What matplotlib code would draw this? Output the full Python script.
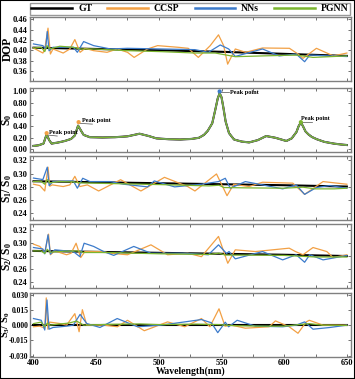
import matplotlib
matplotlib.use("Agg")
import matplotlib.pyplot as plt
from matplotlib.patches import Rectangle

plt.rcParams['font.family'] = ['Liberation Serif', 'DejaVu Serif']
plt.rcParams['font.weight'] = 'bold'
plt.rcParams['mathtext.fontset'] = 'custom'
plt.rcParams['mathtext.rm'] = 'Liberation Serif:bold'
plt.rcParams['mathtext.it'] = 'Liberation Serif:bold'
plt.rcParams['mathtext.bf'] = 'Liberation Serif:bold'

# ---- data ----
methods = ['GT', 'CCSP', 'NNs', 'PGNN']
colors = ['#000000', '#F2A044', '#3C7BCB', '#7BB52F']

# DOP
dop_gt_wl = [400, 450, 500, 550, 600, 650]
dop_gt = [0.405, 0.4025, 0.400, 0.397, 0.393, 0.389]
dop_ccsp_wl = [400, 407.5, 409, 411.6, 413.5, 415.6, 423.7, 429, 433, 437.2, 441.2, 448, 458.7, 466.8,
               475, 480.3, 491, 499, 515.3, 523.4, 531.5, 541, 547.6, 551.7, 554.9, 561, 569.2, 582.7,
               604.2, 611, 615, 625.7, 639.2, 650]
dop_ccsp = [0.4044, 0.3946, 0.4025, 0.443, 0.3927, 0.4025, 0.3946, 0.4025, 0.4208, 0.396, 0.4038, 0.3992,
            0.396, 0.4025, 0.396, 0.3861, 0.4025, 0.409, 0.4058, 0.4038, 0.3861, 0.409, 0.430, 0.409,
            0.373, 0.4025, 0.396, 0.4044, 0.4038, 0.3927, 0.3842, 0.4038, 0.389, 0.3946]
dop_nns_wl = [400, 407.5, 409.7, 411, 412.4, 415.6, 431.8, 435, 440, 448, 461.4, 475, 501.8, 528.8,
              539.5, 549, 555.7, 561, 582.7, 596, 609.6, 616.3, 620.4, 636.5, 650]
dop_nns = [0.4123, 0.409, 0.4025, 0.4365, 0.399, 0.4058, 0.4058, 0.396, 0.4169, 0.409, 0.4025, 0.4038,
           0.4025, 0.4012, 0.396, 0.4103, 0.4025, 0.388, 0.4025, 0.389, 0.3927, 0.3777, 0.3907, 0.389, 0.3878]
dop_pgnn_wl = [400, 406.2, 409, 410.8, 412.9, 421, 431.8, 437, 448, 475, 502, 528.8, 545, 561, 582.7,
               609.6, 623, 650]
dop_pgnn = [0.4044, 0.4058, 0.3973, 0.409, 0.4025, 0.4078, 0.4058, 0.4025, 0.4025, 0.3992, 0.3973,
            0.3946, 0.3946, 0.3875, 0.389, 0.3907, 0.3861, 0.389]

# S0 (all four methods overlap)
s0_wl = [400, 404, 408, 410.5, 412.5, 414.5, 420, 425, 430, 433, 435.6, 438, 440, 445, 455, 465, 475,
         484.6, 492, 498, 508, 517, 526, 532, 536, 539, 542.6, 545, 547, 548.5, 550, 551.5, 553.3, 556,
         560, 566, 572, 579, 585.6, 593, 601.7, 606, 609.8, 611.5, 613.3, 615, 617, 619.3, 622, 626, 632,
         639.5, 645, 650]
s0 = [0.06, 0.07, 0.10, 0.26, 0.16, 0.10, 0.12, 0.145, 0.18, 0.24, 0.41, 0.32, 0.25, 0.21, 0.205, 0.21,
      0.225, 0.27, 0.23, 0.19, 0.175, 0.17, 0.18, 0.20, 0.25, 0.32, 0.45, 0.68, 0.88, 0.97, 0.90, 0.72,
      0.48, 0.28, 0.17, 0.135, 0.12, 0.16, 0.23, 0.20, 0.145, 0.19, 0.30, 0.40, 0.465, 0.40, 0.31, 0.26,
      0.215, 0.175, 0.13, 0.10, 0.085, 0.075]
peak_wl = [410.5, 436.0, 548.5, 613.3]
peak_val = [0.28, 0.47, 1.00, 0.47]
peak_color = ['#F2A044', '#F2A044', '#3C7BCB', '#7BB52F']

# S1/S0
s1_gt_wl = [400, 500, 600, 650]
s1_gt = [0.2885, 0.2855, 0.2825, 0.2805]
s1_ccsp_wl = [400, 405, 409, 411.6, 413, 415, 423.7, 429, 433, 437, 443, 452, 469.5, 485.7, 504.5, 523,
              528.8, 546, 554.4, 559.8, 571.9, 582.7, 606.9, 616.3, 631, 650]
s1_ccsp = [0.284, 0.282, 0.2738, 0.3097, 0.281, 0.283, 0.2805, 0.283, 0.2959, 0.2805, 0.283, 0.2738,
           0.2908, 0.2738, 0.2944, 0.2805, 0.2738, 0.2995, 0.2667, 0.284, 0.2805, 0.287, 0.2856, 0.2687,
           0.288, 0.284]
s1_nns_wl = [400, 407.5, 411, 412.5, 415.6, 431.8, 435, 439.3, 445, 461, 472, 491, 496.4, 512.6, 534,
             547.6, 553, 557, 569, 582.6, 598.8, 609.6, 616.3, 625.7, 636.5, 650]
s1_nns = [0.2933, 0.291, 0.3097, 0.282, 0.288, 0.289, 0.278, 0.293, 0.288, 0.288, 0.284, 0.280, 0.289,
          0.280, 0.284, 0.288, 0.293, 0.278, 0.288, 0.283, 0.277, 0.283, 0.2687, 0.279, 0.282, 0.278]
s1_pgnn_wl = [400, 406, 409, 411, 413, 420, 432, 438, 450, 500, 540, 548, 552, 570, 600, 615, 625, 640, 650]
s1_pgnn = [0.288, 0.2885, 0.284, 0.291, 0.286, 0.288, 0.2875, 0.286, 0.2855, 0.2835, 0.2815, 0.2825,
           0.279, 0.2785, 0.278, 0.2795, 0.277, 0.277, 0.278]

# S2/S0
s2_gt_wl = [400, 500, 600, 650]
s2_gt = [0.288, 0.285, 0.282, 0.280]
s2_ccsp_wl = [400, 405, 409, 412, 413.5, 417, 426.4, 430, 434, 437.7, 441, 456, 461, 475, 493.7, 507,
              523, 534, 547.6, 555, 561, 577, 604, 609, 615, 623, 634, 639, 650]
s2_ccsp = [0.2986, 0.295, 0.286, 0.3142, 0.282, 0.288, 0.282, 0.2844, 0.300, 0.2776, 0.287, 0.287,
           0.2844, 0.282, 0.2975, 0.282, 0.2844, 0.279, 0.3106, 0.2687, 0.2897, 0.287, 0.2923, 0.287,
           0.282, 0.2933, 0.287, 0.2776, 0.282]
s2_nns_wl = [400, 407.5, 409, 411.6, 413.5, 417, 431.8, 437, 440.4, 448, 456, 464, 480, 493.7, 507,
             520.7, 539.5, 547.6, 554, 556, 561, 582.7, 598.8, 609.6, 616.3, 620.4, 631, 650]
s2_nns = [0.2933, 0.291, 0.2834, 0.3132, 0.283, 0.2897, 0.287, 0.279, 0.300, 0.295, 0.287, 0.281, 0.295,
          0.2844, 0.2844, 0.2844, 0.282, 0.2975, 0.284, 0.287, 0.2756, 0.287, 0.274, 0.282, 0.2703, 0.282,
          0.274, 0.2808]
s2_pgnn_wl = [400, 406, 409, 411, 413, 425, 435, 440, 460, 500, 540, 548, 553, 570, 600, 625, 650]
s2_pgnn = [0.288, 0.288, 0.284, 0.2905, 0.286, 0.2875, 0.288, 0.2855, 0.2855, 0.2835, 0.2825, 0.2845,
           0.2815, 0.2815, 0.281, 0.2785, 0.2785]

# S3/S0
s3_gt_wl = [400, 650]
s3_gt = [0.0005, 0.0005]
s3_ccsp_wl = [400, 405, 409, 410.2, 411.5, 413, 421, 426.4, 433, 436.4, 439, 442.5, 448, 456, 467, 475,
              488.4, 507, 520.7, 534, 540.7, 548, 552.8, 558, 569, 588, 593, 604, 611, 617.6, 620, 631,
              644, 650]
s3_ccsp = [-0.0016, -0.001, -0.003, 0.0268, -0.004, 0.003, 0.0016, 0.0, 0.0113, -0.0065, 0.0152, 0.0,
           0.0, 0.0, -0.0016, 0.0048, -0.0055, 0.0032, -0.0016, 0.0065, -0.0016, 0.0161, -0.001, 0.0,
           -0.003, -0.0016, 0.0042, -0.0016, -0.008, 0.0032, 0.0048, 0.0, 0.0, 0.0]
s3_nns_wl = [400, 406.2, 409, 410.8, 412.4, 415.6, 426.4, 431.8, 437.2, 442.5, 453, 466.8, 483, 501.8,
             520.7, 534, 542, 547, 553, 555.7, 562.5, 577, 598.8, 609.6, 616.3, 623, 636.5, 650]
s3_nns = [0.0065, 0.0048, -0.0048, 0.0248, -0.004, -0.0023, -0.001, 0.0, 0.0106, 0.0016, -0.0023, 0.0065,
          -0.0016, 0.0, 0.0032, 0.0055, 0.0023, -0.0074, 0.0029, -0.0016, 0.0048, -0.001, -0.0016, 0.0,
          0.0032, -0.004, -0.0023, 0.0]
s3_pgnn_wl = [400, 406, 409, 411, 413, 420, 428, 434.5, 440, 460, 485, 500, 530, 548, 560, 580, 600,
              620, 630, 650]
s3_pgnn = [0.0015, 0.003, -0.0015, 0.002, 0.0, 0.001, 0.002, 0.004, 0.0, 0.0008, 0.0012, 0.0005, 0.001,
           0.0005, -0.0005, -0.001, -0.001, 0.0015, 0.0, -0.0003]

panels = [
    ('DOP', [(dop_gt_wl, dop_gt), (dop_ccsp_wl, dop_ccsp), (dop_nns_wl, dop_nns), (dop_pgnn_wl, dop_pgnn)],
     (0.340, 0.4645), [0.36, 0.38, 0.40, 0.42, 0.44, 0.46], '{:.2f}'),
    ('S$_0$', [(s0_wl, s0)] * 4,
     (-0.045, 1.06), [0.0, 0.2, 0.4, 0.6, 0.8, 1.0], '{:.2f}'),
    ('S$_1$/ S$_0$', [(s1_gt_wl, s1_gt), (s1_ccsp_wl, s1_ccsp), (s1_nns_wl, s1_nns), (s1_pgnn_wl, s1_pgnn)],
     (0.230, 0.3266), [0.24, 0.26, 0.28, 0.30, 0.32], '{:.2f}'),
    ('S$_2$/ S$_0$', [(s2_gt_wl, s2_gt), (s2_ccsp_wl, s2_ccsp), (s2_nns_wl, s2_nns), (s2_pgnn_wl, s2_pgnn)],
     (0.230, 0.330), [0.24, 0.26, 0.28, 0.30, 0.32], '{:.2f}'),
    ('S$_3$/ S$_0$', [(s3_gt_wl, s3_gt), (s3_ccsp_wl, s3_ccsp), (s3_nns_wl, s3_nns), (s3_pgnn_wl, s3_pgnn)],
     (-0.031, 0.032), [-0.030, -0.015, 0.0, 0.015, 0.030], '{:.3f}'),
]

fig = plt.figure(figsize=(3.55, 3.79), dpi=100)
bottoms = [0.786, 0.599, 0.4195, 0.240, 0.059]
left, width, height = 0.0837, 0.904, 0.1689
axes = []
for i, (ylab, series, ylim, yticks, fmt) in enumerate(panels):
    ax = fig.add_axes([left, bottoms[i], width, height])
    axes.append(ax)
    for (wl, v), c, m in zip(series, colors, methods):
        lw = 1.5 if m == 'GT' else 0.9
        ax.plot(wl, v, color=c, lw=lw, label=m)
    ax.set_xlim(397, 653)
    ax.set_ylim(*ylim)
    ax.set_yticks(yticks)
    ax.set_yticklabels([fmt.format(t) for t in yticks])
    ax.set_xticks([400, 425, 450, 475, 500, 525, 550, 575, 600, 625, 650])
    ax.tick_params(direction='in', length=2.5, width=0.6, labelsize=6, top=True, right=True,
                   color='0.35', pad=1.5)
    if i < 4:
        ax.set_xticklabels([])
        ax.set_ylabel(ylab, fontsize=8.3, fontweight='bold')
        ax.yaxis.set_label_coords(-0.05, 0.5)
    else:
        ax.set_xticklabels(['400', '', '450', '', '500', '', '550', '', '600', '', '650'])
        ax.set_xlabel('Wavelength(nm)', fontsize=7, fontweight='bold', labelpad=0)
        ax.tick_params(axis='y', labelsize=5.5, pad=1)
        ax.set_ylabel(ylab, fontsize=7.5, fontweight='bold')
        ax.yaxis.set_label_coords(-0.054, 0.5)
    for s in ax.spines.values():
        s.set_color('0.5')
        s.set_linewidth(1.0)

# peak markers and labels on S0 panel
ax0 = axes[1]
ax0.scatter(peak_wl, peak_val, s=4, c=peak_color, zorder=5)
ax0.plot([410.5, 419], [0.25, 0.23], color='0.3', lw=0.5)
ax0.text(412, 0.245, 'Peak point', fontsize=4.5, fontweight='bold', va='bottom')
ax0.plot([436, 447], [0.45, 0.436], color='0.3', lw=0.5)
ax0.text(438.5, 0.45, 'Peak point', fontsize=4.5, fontweight='bold', va='bottom')
ax0.plot([548.5, 556], [0.985, 0.985], color='0.3', lw=0.5)
ax0.text(556.5, 0.985, 'Peak point', fontsize=4.5, fontweight='bold', va='center')
ax0.plot([613.3, 622], [0.47, 0.47], color='0.3', lw=0.5)
ax0.text(613.5, 0.49, 'Peak point', fontsize=4.5, fontweight='bold', va='bottom')

handles, labels = axes[0].get_legend_handles_labels()
leg = fig.legend(handles, labels, loc='lower left', ncol=4, mode='expand',
                 bbox_to_anchor=(0.0845, 0.961, 0.902, 0.034), frameon=True, fancybox=False,
                 prop={'family': 'Liberation Serif', 'weight': 'bold', 'size': 7},
                 handlelength=4.2, borderpad=0.15, handletextpad=0.6, borderaxespad=0)
leg.get_frame().set_edgecolor('0.5')
leg.get_frame().set_linewidth(1.0)
for h in leg.get_lines():
    h.set_linewidth(1.8)

fig.patches.append(Rectangle((0, 0), 1, 1, transform=fig.transFigure, fill=False,
                             edgecolor='black', lw=1.5))

fig.savefig('out.png', dpi=100)
